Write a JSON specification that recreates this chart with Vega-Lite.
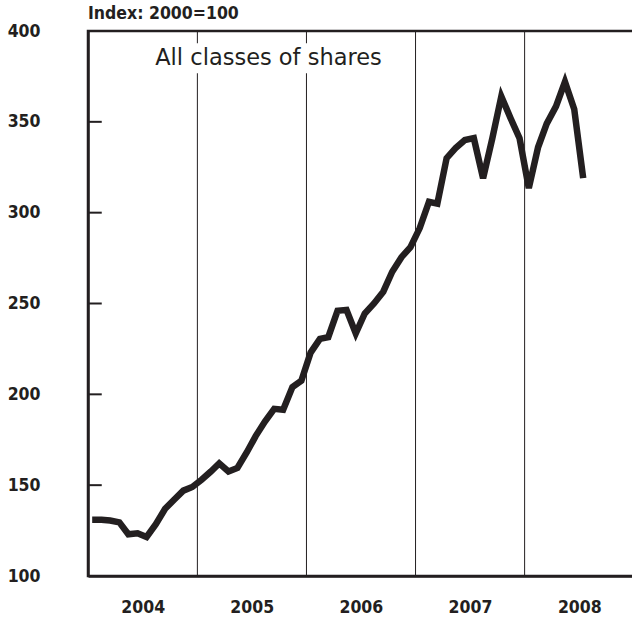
{
  "$schema": "https://vega.github.io/schema/vega-lite/v6.json",
  "width": 546,
  "height": 545,
  "autosize": "none",
  "padding": {"left": 88, "top": 31, "right": 0, "bottom": 42},
  "background": "white",
  "title": {"text": "Index: 2000=100", "anchor": "start", "frame": "group", "fontSize": 17.5, "fontWeight": "bold", "font": "DejaVu Sans Condensed, DejaVu Sans", "color": "#231f20", "offset": 0},
  "config": {"view": {"stroke": "#231f20", "strokeWidth": 2.5}, "font": "DejaVu Sans Condensed, DejaVu Sans"},
  "datasets": {
    "years": [
      {"date": "2005-01-01"}, {"date": "2006-01-01"}, {"date": "2007-01-01"}, {"date": "2008-01-01"}
    ],
    "ymarks": [
      {"level": 150}, {"level": 200}, {"level": 250}, {"level": 300}, {"level": 350}
    ],
    "index": [
      {"date": "2004-01-15", "value": 131},
      {"date": "2004-02-15", "value": 131},
      {"date": "2004-03-15", "value": 130.5},
      {"date": "2004-04-15", "value": 129.5},
      {"date": "2004-05-15", "value": 123},
      {"date": "2004-06-15", "value": 123.5},
      {"date": "2004-07-15", "value": 121.5},
      {"date": "2004-08-15", "value": 128.5},
      {"date": "2004-09-15", "value": 137},
      {"date": "2004-10-15", "value": 142},
      {"date": "2004-11-15", "value": 147},
      {"date": "2004-12-15", "value": 149},
      {"date": "2005-01-15", "value": 153},
      {"date": "2005-02-15", "value": 157.5},
      {"date": "2005-03-15", "value": 162},
      {"date": "2005-04-15", "value": 157.5},
      {"date": "2005-05-15", "value": 159.5},
      {"date": "2005-06-15", "value": 168},
      {"date": "2005-07-15", "value": 177},
      {"date": "2005-08-15", "value": 185},
      {"date": "2005-09-15", "value": 192},
      {"date": "2005-10-15", "value": 191.5},
      {"date": "2005-11-15", "value": 204},
      {"date": "2005-12-15", "value": 207.5},
      {"date": "2006-01-15", "value": 223},
      {"date": "2006-02-15", "value": 230.5},
      {"date": "2006-03-15", "value": 231.5},
      {"date": "2006-04-15", "value": 246},
      {"date": "2006-05-15", "value": 246.5},
      {"date": "2006-06-15", "value": 233.5},
      {"date": "2006-07-15", "value": 244.5},
      {"date": "2006-08-15", "value": 250},
      {"date": "2006-09-15", "value": 256.5},
      {"date": "2006-10-15", "value": 267.5},
      {"date": "2006-11-15", "value": 275.5},
      {"date": "2006-12-15", "value": 281},
      {"date": "2007-01-15", "value": 291.5},
      {"date": "2007-02-15", "value": 306},
      {"date": "2007-03-15", "value": 305},
      {"date": "2007-04-15", "value": 330},
      {"date": "2007-05-15", "value": 335.5},
      {"date": "2007-06-15", "value": 340},
      {"date": "2007-07-15", "value": 341},
      {"date": "2007-08-15", "value": 319},
      {"date": "2007-09-15", "value": 341},
      {"date": "2007-10-15", "value": 364},
      {"date": "2007-11-15", "value": 352},
      {"date": "2007-12-15", "value": 341},
      {"date": "2008-01-15", "value": 313.5},
      {"date": "2008-02-15", "value": 336},
      {"date": "2008-03-15", "value": 349},
      {"date": "2008-04-15", "value": 358.5},
      {"date": "2008-05-15", "value": 372},
      {"date": "2008-06-15", "value": 357},
      {"date": "2008-07-15", "value": 319}
    ]
  },
  "layer": [
    {
      "data": {"name": "years"},
      "mark": {"type": "rule", "color": "#231f20", "strokeWidth": 1},
      "encoding": {
        "x": {"field": "date", "type": "temporal"}
      }
    },
    {
      "data": {"values": [{}]},
      "mark": {"type": "rect", "fill": "white"},
      "encoding": {
        "x": {"datum": {"year": 2004, "month": 7, "date": 26, "utc": true}, "type": "temporal"},
        "x2": {"datum": {"year": 2006, "month": 10, "date": 6, "utc": true}},
        "y": {"datum": 393.3, "type": "quantitative"},
        "y2": {"datum": 376.8}
      }
    },
    {
      "data": {"values": [{}]},
      "mark": {"type": "text", "text": "All classes of shares", "fontSize": 22.5, "font": "DejaVu Sans", "color": "#231f20", "align": "center", "baseline": "middle"},
      "encoding": {
        "x": {"datum": {"year": 2005, "month": 8, "date": 27, "utc": true}, "type": "temporal"},
        "y": {"datum": 385, "type": "quantitative"}
      }
    },
    {
      "data": {"name": "index"},
      "mark": {"type": "line", "color": "#231f20", "strokeWidth": 6.5},
      "encoding": {
        "x": {
          "field": "date",
          "type": "temporal",
          "scale": {"type": "utc", "domain": [{"year": 2004, "month": 1, "date": 1, "utc": true}, {"year": 2009, "month": 1, "date": 1, "utc": true}]},
          "axis": {
            "values": [
              {"year": 2004, "month": 7, "date": 2, "utc": true},
              {"year": 2005, "month": 7, "date": 2, "utc": true},
              {"year": 2006, "month": 7, "date": 2, "utc": true},
              {"year": 2007, "month": 7, "date": 2, "utc": true},
              {"year": 2008, "month": 7, "date": 2, "utc": true}
            ],
            "labelExpr": "utcFormat(datum.value, '%Y')",
            "title": null,
            "ticks": false,
            "grid": false,
            "domainWidth": 2.5,
            "domainColor": "#231f20",
            "labelFontSize": 17.5,
            "labelFontWeight": "bold",
            "labelColor": "#231f20",
            "labelPadding": 22
          }
        },
        "y": {
          "field": "value",
          "type": "quantitative",
          "scale": {"domain": [100, 400], "nice": false, "zero": false},
          "axis": {
            "values": [100, 150, 200, 250, 300, 350, 400],
            "title": null,
            "grid": false,
            "ticks": false,
            "domainWidth": 2.5,
            "domainColor": "#231f20",
            "labelFontSize": 17.5,
            "labelFontWeight": "bold",
            "labelColor": "#231f20",
            "labelPadding": 48
          }
        }
      }
    },
    {
      "data": {"name": "ymarks"},
      "mark": {"type": "rule", "color": "#231f20", "strokeWidth": 2, "opacity": 1},
      "encoding": {
        "y": {"field": "level", "type": "quantitative"},
        "x": {"datum": {"year": 2004, "month": 1, "date": 1, "utc": true}, "type": "temporal"},
        "x2": {"datum": {"year": 2004, "month": 2, "date": 16, "utc": true}}
      }
    }
  ]
}
